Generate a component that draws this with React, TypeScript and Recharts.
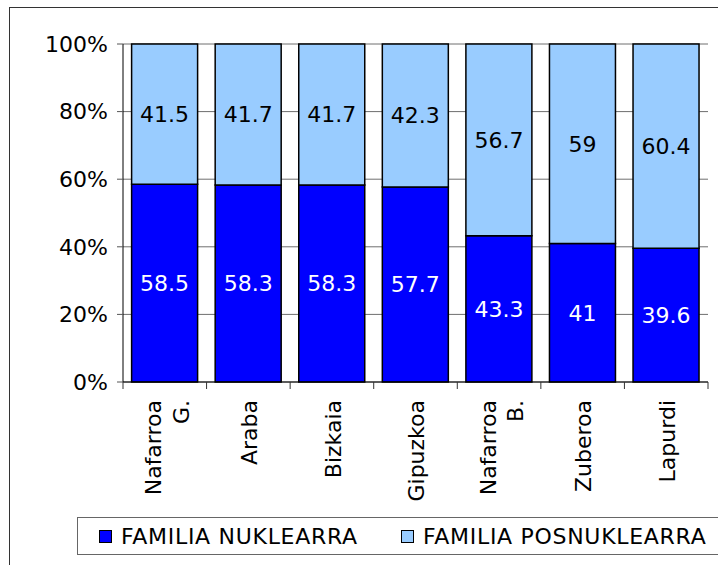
import React from 'react';
import {
  BarChart,
  Bar,
  XAxis,
  YAxis,
  CartesianGrid,
  Legend,
  LabelList
} from 'recharts';

const regions = ['Nafarroa G.', 'Araba', 'Bizkaia', 'Gipuzkoa', 'Nafarroa B.', 'Zuberoa', 'Lapurdi'];
const nuklearra = [58.5, 58.3, 58.3, 57.7, 43.3, 41, 39.6];
const posnuklearra = [41.5, 41.7, 41.7, 42.3, 56.7, 59, 60.4];
const percentTicks = [0, 20, 40, 60, 80, 100];

const FONT = '"DejaVu Sans", Verdana, sans-serif';
const FS = 22;

const chartData = regions.map((region, i) => ({
  region,
  nuk: nuklearra[i],
  pos: posnuklearra[i]
}));

// category label, rotated, plus the small tick marks at the band edges
function RegionTick(props: any) {
  const { x, y, payload, width, visibleTicksCount, index } = props;
  const lines = String(payload.value).split(' ');
  const half = width / visibleTicksCount / 2;
  const last = index === visibleTicksCount - 1;
  return (
    <g transform={`translate(${x},${y})`}>
      <line x1={-half} x2={-half} y1={0} y2={7} stroke="#333" />
      {last && <line x1={half} x2={half} y1={0} y2={7} stroke="#333" />}
      <text transform="rotate(-90)" textAnchor="end" fontSize={FS} fontFamily={FONT} fill="#000">
        {lines.map((line, i) => (
          <tspan key={i} x={-18} dy={i === 0 ? (lines.length === 1 ? '0.4em' : '-0.15em') : '1.25em'}>
            {line}
          </tspan>
        ))}
      </text>
    </g>
  );
}

function LegendBox(props: any) {
  const { payload } = props;
  return (
    <div
      style={{
        border: '1px solid #666',
        height: 38,
        display: 'flex',
        alignItems: 'center',
        paddingLeft: 21,
        fontFamily: FONT,
        fontSize: FS,
        letterSpacing: 0.7,
        color: '#000',
        boxSizing: 'border-box',
        whiteSpace: 'nowrap'
      }}
    >
      {payload.map((entry: any, i: number) => (
        <span key={i} style={{ display: 'inline-flex', alignItems: 'center', width: i === 0 ? 302 : 'auto' }}>
          <span
            style={{
              display: 'inline-block',
              width: 11,
              height: 11,
              background: entry.color,
              border: '1px solid #000',
              marginRight: 9
            }}
          />
          {entry.value}
        </span>
      ))}
    </div>
  );
}

export default function App() {
  return (
    <>
      <style>{'html,body{margin:0;padding:0;overflow:hidden;background:#fff;}'}</style>
      <div style={{ position: 'relative', width: 718, height: 565, overflow: 'hidden' }}>
        <div
          style={{
            position: 'absolute',
            left: 9,
            top: 6.5,
            width: 760,
            height: 620,
            border: '1.5px solid #333'
          }}
        />
        <div style={{ position: 'absolute', left: 8, top: 6 }}>
          <BarChart
            width={710}
            height={559}
            data={chartData}
            margin={{ top: 38, right: 10, left: 0, bottom: 0 }}
            barCategoryGap="10.3%"
          >
            <CartesianGrid vertical={false} stroke="#6e6e6e" />
            <XAxis
              dataKey="region"
              interval={0}
              height={183}
              tickLine={false}
              tickSize={0}
              tickMargin={0}
              axisLine={{ stroke: '#000' }}
              tick={<RegionTick />}
            />
            <YAxis
              width={115}
              domain={[0, 100]}
              ticks={percentTicks}
              tickFormatter={(v: number) => `${v}%`}
              tick={{ fontSize: FS, fontFamily: FONT, fill: '#000' }}
              tickLine={{ stroke: '#555' }}
              tickSize={6}
              tickMargin={9}
              axisLine={{ stroke: '#000' }}
            />
            <Legend
              layout="horizontal"
              verticalAlign="middle"
              align="center"
              wrapperStyle={{ left: 69, top: 511, width: 700 }}
              content={<LegendBox />}
            />
            <Bar
              dataKey="nuk"
              name="FAMILIA NUKLEARRA"
              stackId="a"
              fill="#0000ff"
              stroke="#000"
              strokeWidth={1.5}
              isAnimationActive={false}
            >
              <LabelList dataKey="nuk" position="center" fill="#fff" stroke="none" fontSize={FS} fontFamily={FONT} />
            </Bar>
            <Bar
              dataKey="pos"
              name="FAMILIA POSNUKLEARRA"
              stackId="a"
              fill="#99ccff"
              stroke="#000"
              strokeWidth={1.5}
              isAnimationActive={false}
            >
              <LabelList dataKey="pos" position="center" fill="#000" stroke="none" fontSize={FS} fontFamily={FONT} />
            </Bar>
          </BarChart>
        </div>
      </div>
    </>
  );
}
